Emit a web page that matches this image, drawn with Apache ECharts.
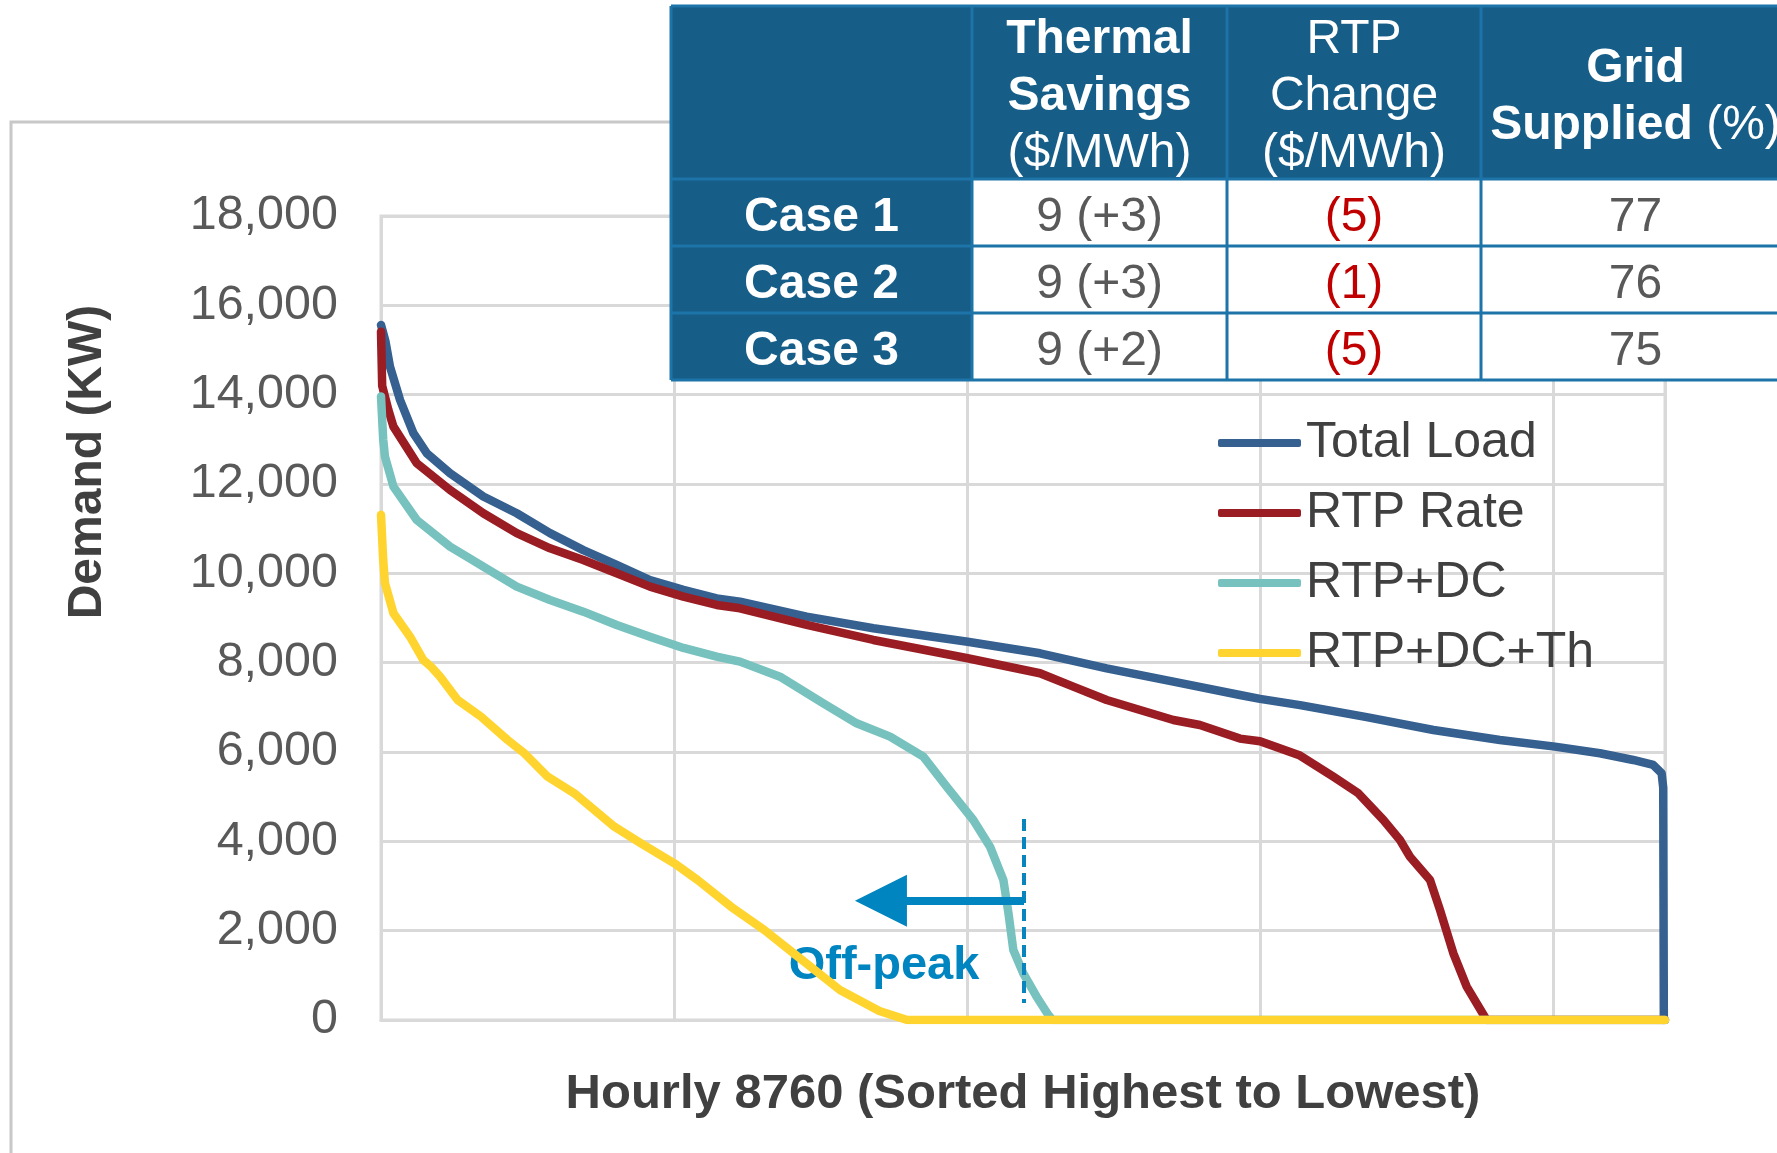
<!DOCTYPE html>
<html>
<head>
<meta charset="utf-8">
<script src="https://cdn.jsdelivr.net/npm/echarts@6/dist/echarts.min.js"></script>
<style>
html,body{margin:0;padding:0;background:#fff;}
#c{width:1777px;height:1153px;}
</style>
</head>
<body>
<div id="c"></div>
<script>
// ---------------- DATA ----------------
const seriesNames = ['Total Load', 'RTP Rate', 'RTP+DC', 'RTP+DC+Th'];

const totalLoadHours = [0, 30, 61, 130, 221, 312, 471, 698, 926, 1153, 1380, 1608, 1835, 2063, 2290, 2449, 2904, 3359, 4002, 4496, 4951, 5406, 5860, 5997, 6270, 6725, 7180, 7634, 8009, 8316, 8543, 8680, 8737, 8748, 8752];
const totalLoadKW    = [15560, 15200, 14630, 13880, 13140, 12690, 12240, 11720, 11345, 10900, 10520, 10190, 9850, 9630, 9440, 9366, 9030, 8770, 8470, 8210, 7874, 7575, 7277, 7190, 7050, 6780, 6493, 6269, 6120, 5972, 5821, 5709, 5523, 5200, 0];

const rtpRateHours = [0, 8, 50, 85, 244, 471, 698, 926, 1153, 1380, 1608, 1835, 2063, 2290, 2449, 2904, 3359, 4002, 4496, 4723, 4951, 5406, 5587, 5860, 5997, 6270, 6497, 6668, 6839, 6952, 7020, 7157, 7225, 7316, 7407, 7543, 8760];
const rtpRateKW    = [15410, 14200, 13660, 13284, 12465, 11867, 11345, 10898, 10561, 10299, 10001, 9702, 9478, 9292, 9217, 8844, 8508, 8098, 7763, 7463, 7165, 6717, 6605, 6300, 6240, 5920, 5448, 5075, 4478, 4030, 3656, 3135, 2463, 1493, 746, 0, 0];

const rtpDcHours = [0, 15, 27, 85, 244, 471, 585, 698, 926, 1153, 1380, 1608, 1835, 2063, 2290, 2449, 2722, 3018, 3245, 3473, 3700, 3859, 4041, 4155, 4246, 4281, 4314, 4382, 4473, 4553, 4580, 8760];
const rtpDcKW    = [13960, 13000, 12613, 11941, 11195, 10598, 10374, 10150, 9702, 9404, 9142, 8844, 8582, 8330, 8134, 8023, 7687, 7091, 6643, 6343, 5895, 5224, 4478, 3880, 3135, 2389, 1567, 1045, 522, 112, 0, 0];

const rtpDcThHours = [0, 15, 27, 85, 198, 289, 341, 403, 523, 682, 864, 978, 1137, 1319, 1592, 1774, 2001, 2160, 2388, 2615, 2790, 3131, 3400, 3590, 8760];
const rtpDcThKW    = [11310, 10300, 9780, 9106, 8582, 8060, 7911, 7687, 7165, 6791, 6269, 5972, 5448, 5075, 4328, 3956, 3508, 3135, 2537, 2015, 1560, 672, 200, 0, 0];

const yTickMax = 18000, yTickStep = 2000;
const xMax = 8760, xStep = 2000;

// off-peak annotation (data coordinates)
const offPeakHour = 4387;
const offPeakLineKW = [4500, 380];
const offPeakArrow = { fromHour: 4387, toHour: 3411, kw: 2671 };
const offPeakLabel = { hour: 3432, kw: 1200, text: 'Off-peak' };

// table
const tableHeaders = [
  ['{b|Thermal}', '{b|Savings}', '{r|($/MWh)}'],
  ['{r|RTP}', '{r|Change}', '{r|($/MWh)}'],
  ['{b|Grid}', '{b|Supplied} {r|(%)}']
];
const tableCases = ['Case 1', 'Case 2', 'Case 3'];
const thermalSavings = ['9 (+3)', '9 (+3)', '9 (+2)'];
const rtpChange = ['(5)', '(1)', '(5)'];
const gridSupplied = ['77', '76', '75'];

// ---------------- CHART ----------------
const FONT = "'Liberation Sans', Arial, Helvetica, sans-serif";
const colors = ['#35608F', '#9B1D24', '#77C2BE', '#FFD42F'];
const pairs = (h, v) => h.map((x, i) => [x, v[i]]);
const seriesData = [
  pairs(totalLoadHours, totalLoadKW),
  pairs(rtpRateHours, rtpRateKW),
  pairs(rtpDcHours, rtpDcKW),
  pairs(rtpDcThHours, rtpDcThKW)
];

const chart = echarts.init(document.getElementById('c'), null, { renderer: 'canvas', width: 1777, height: 1153 });

// table graphics
const colX = [671, 972, 1227, 1481, 1790];
const rowY = [6, 179, 246, 313, 380];
const tblFill = '#165D88', tblLine = '#1C74A8';
const tbl = [];
tbl.push({ type: 'rect', shape: { x: colX[0], y: rowY[0], width: colX[4] - colX[0], height: rowY[4] - rowY[0] }, style: { fill: tblFill } });
for (let r = 1; r <= 3; r++) {
  for (let c = 1; c <= 3; c++) {
    tbl.push({ type: 'rect', shape: { x: colX[c], y: rowY[r], width: colX[c + 1] - colX[c], height: rowY[r + 1] - rowY[r] }, style: { fill: '#ffffff' } });
  }
}
for (let c = 0; c < 4; c++) {
  tbl.push({ type: 'line', shape: { x1: colX[c], y1: rowY[0], x2: colX[c], y2: rowY[4] }, style: { stroke: tblLine, lineWidth: 3 } });
}
for (let r = 0; r < 5; r++) {
  tbl.push({ type: 'line', shape: { x1: colX[0], y1: rowY[r], x2: colX[4], y2: rowY[r] }, style: { stroke: tblLine, lineWidth: 3 } });
}
const TFS = 48;
const richWhite = {
  b: { fontFamily: FONT, fontSize: TFS, fontWeight: 'bold', fill: '#ffffff', color: '#ffffff' },
  r: { fontFamily: FONT, fontSize: TFS, fontWeight: 'normal', fill: '#ffffff', color: '#ffffff' }
};
function txt(x, y, text, opts) {
  return {
    type: 'text', x: x, y: y,
    style: Object.assign({ text: text, fontFamily: FONT, fontSize: TFS, align: 'center', verticalAlign: 'middle', textAlign: 'center', textVerticalAlign: 'middle' }, opts || {})
  };
}
const headerLineY = [[40, 97, 154], [40, 97, 154], [69, 126]];
for (let c = 0; c < 3; c++) {
  const cx = (colX[c + 1] + colX[c + 2]) / 2;
  tableHeaders[c].forEach((line, i) => {
    tbl.push(txt(cx, headerLineY[c][i], line, { rich: richWhite, fill: '#ffffff' }));
  });
}
const rowCY = [218, 285, 352];
tableCases.forEach((t, i) => {
  tbl.push(txt((colX[0] + colX[1]) / 2, rowCY[i], t, { fill: '#ffffff', fontWeight: 'bold' }));
  tbl.push(txt((colX[1] + colX[2]) / 2, rowCY[i], thermalSavings[i], { fill: '#595959' }));
  tbl.push(txt((colX[2] + colX[3]) / 2, rowCY[i], rtpChange[i], { fill: '#C00000' }));
  tbl.push(txt((colX[3] + colX[4]) / 2, rowCY[i], gridSupplied[i], { fill: '#595959' }));
});
tbl.forEach(e => { e.z = 100; e.zlevel = 0; });

const option = {
  animation: false,
  backgroundColor: '#ffffff',
  color: colors,
  grid: { left: 381, top: 216, width: 1284, bottom: 133, show: true, borderColor: '#D9D9D9', borderWidth: 3, backgroundColor: 'transparent' },
  legend: {
    data: seriesNames,
    orient: 'vertical',
    left: 1213, top: 413,
    itemWidth: 83, itemHeight: 8, itemGap: 20,
    icon: 'roundRect',
    textStyle: { fontFamily: FONT, fontSize: 50, color: '#404040', lineHeight: 50 }
  },
  xAxis: {
    type: 'value', min: 0, max: xMax, interval: xStep,
    name: 'Hourly 8760 (Sorted Highest to Lowest)',
    nameLocation: 'middle', nameGap: 50,
    nameTextStyle: { fontFamily: FONT, fontSize: 49, fontWeight: 'bold', color: '#404040' },
    axisLine: { show: true, lineStyle: { color: '#D9D9D9', width: 3 } },
    axisTick: { show: false },
    axisLabel: { show: false },
    splitLine: { show: true, lineStyle: { color: '#D9D9D9', width: 3 } }
  },
  yAxis: {
    type: 'value', min: 0, max: yTickMax, interval: yTickStep,
    axisLine: { show: false },
    axisTick: { show: false },
    axisLabel: {
      margin: 43, fontFamily: FONT, fontSize: 48.5, color: '#595959',
      formatter: v => v.toLocaleString('en-US')
    },
    splitLine: { show: true, lineStyle: { color: '#D9D9D9', width: 3 } }
  },
  series: seriesNames.map((n, i) => {
    const s = {
      name: n, type: 'line', data: seriesData[i],
      symbol: 'none', showSymbol: false, smooth: false,
      lineStyle: { width: 8.5, color: colors[i], cap: 'round', join: 'round' },
      itemStyle: { color: colors[i] },
      z: 2 + i
    };
    if (i === 3) {
      s.markLine = {
        silent: true, symbol: 'none',
        label: { show: false },
        data: [
          [
            { coord: [offPeakHour, offPeakLineKW[0]], symbol: 'none', lineStyle: { color: '#0A84BE', width: 4, type: [12, 6] } },
            { coord: [offPeakHour, offPeakLineKW[1]], symbol: 'none' }
          ],
          [
            { coord: [offPeakArrow.fromHour, offPeakArrow.kw], symbol: 'none', lineStyle: { color: '#0085C0', width: 8, type: 'solid' } },
            { coord: [offPeakArrow.toHour, offPeakArrow.kw], symbol: 'triangle', symbolSize: [52, 52] }
          ]
        ],
        lineStyle: { color: '#0085C0' },
        itemStyle: { color: '#0085C0' }
      };
      s.markPoint = {
        silent: true,
        data: [{
          coord: [offPeakLabel.hour, offPeakLabel.kw], symbol: 'circle', symbolSize: 1,
          itemStyle: { color: 'rgba(0,0,0,0)' },
          label: { show: true, position: 'inside', formatter: offPeakLabel.text, fontFamily: FONT, fontSize: 47, fontWeight: 'bold', color: '#0085C0' }
        }]
      };
    }
    return s;
  }),
  graphic: [
    { type: 'rect', z: 0, shape: { x: 11, y: 122, width: 1900, height: 1200 }, style: { fill: 'none', stroke: '#C8C8C8', lineWidth: 3 } },
    { type: 'text', x: 88, y: 462, rotation: Math.PI / 2, z: 5,
      style: { text: 'Demand (KW)', fontFamily: FONT, fontSize: 48, fontWeight: 'bold', fill: '#404040', align: 'center', verticalAlign: 'middle', textAlign: 'center', textVerticalAlign: 'middle' } },
    { type: 'group', z: 100, children: tbl }
  ]
};
chart.setOption(option);
</script>
</body>
</html>
